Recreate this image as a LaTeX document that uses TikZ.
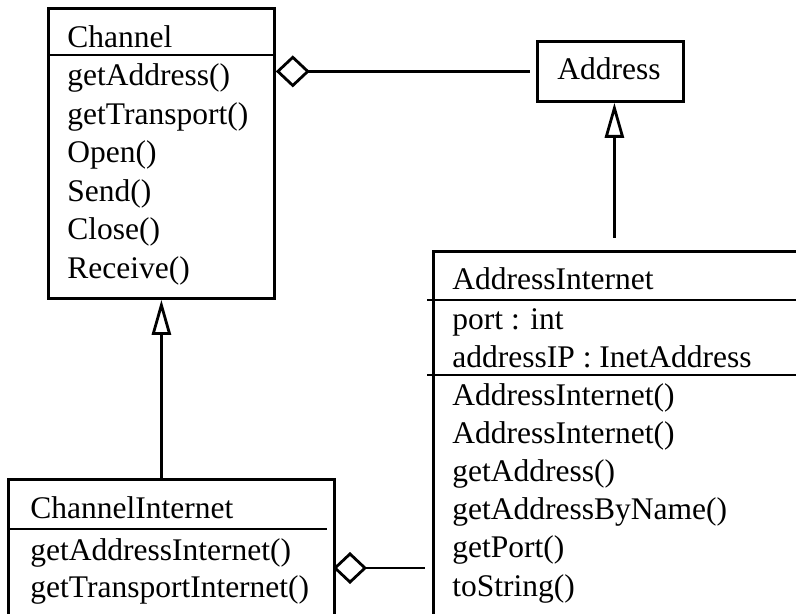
\documentclass[tikz,border=0pt]{standalone}
\usepackage{fontspec}
\setmainfont{Liberation Serif}
\usetikzlibrary{arrows.meta}

\tikzset{
  classbox/.style={draw, line width=1.4pt, rectangle, inner sep=0pt, anchor=north west},
  member/.style={anchor=base west, inner sep=0pt, font=\fontsize{15.75}{19}\selectfont},
  compart/.style={line width=1.4pt},
  inherit/.style={line width=1.4pt, -{Triangle[open, length=17.5pt, width=9.5pt]}},
  aggr/.style={line width=1.4pt, {Diamond[open, length=17pt, width=16pt]}-},
}

\begin{document}
\begin{tikzpicture}[x=0.5pt, y=-0.5pt]
  \useasboundingbox (0,0) rectangle (796,614);
  % class boxes
  \node[classbox, minimum width=113pt, minimum height=145pt] (channel) at (47,7) {};
  \node[classbox, minimum width=73pt, minimum height=30pt] (address) at (536,40) {};
  \node[classbox, minimum width=234pt, minimum height=225pt] (addrinet) at (432,250) {};
  \node[classbox, minimum width=163pt, minimum height=101pt] (chinet) at (7,478) {};
  % compartments
  \draw[compart] (47,55) -- (273,55);
  \draw[compart] (427,300) -- (796,300);
  \draw[compart] (427,375) -- (796,375);
  \draw[compart] (7,529) -- (327,529);
  % class names
  \node[member] (channel-name) at (67,48) {Channel};
  \node[member, anchor=base] (address-name) at (609,80) {Address};
  \node[member] (addrinet-name) at (452,290) {AddressInternet};
  \node[member] (chinet-name) at (30,518) {ChannelInternet};
  % members
  \foreach[count=\i] \m in {getAddress(),getTransport(),Open(),Send(),Close(),Receive()}
    \node[member] (channel-m\i) at (67,{86+38.5*(\i-1)}) {\m};
  \foreach[count=\i] \m in {port : int,addressIP : InetAddress}
    \node[member] (addrinet-a\i) at (452,{329+38.3*(\i-1)}) {\m};
  \foreach[count=\i] \m in {AddressInternet(),AddressInternet(),getAddress(),getAddressByName(),getPort(),toString()}
    \node[member] (addrinet-m\i) at (452,{405+38.2*(\i-1)}) {\m};
  \foreach[count=\i] \m in {getAddressInternet(),getTransportInternet()}
    \node[member] (chinet-m\i) at (30,{560+37.5*(\i-1)}) {\m};
  % relations
  \coordinate (chinet-aggr) at (333,568);
  \draw[aggr, shorten >=3pt] (address.west -| channel.east) -- (address.west);
  \draw[aggr, shorten >=3.5pt] (chinet-aggr) -- (chinet-aggr -| addrinet.west);
  \draw[inherit, shorten <=6pt] ([xshift=2pt]address.south |- addrinet.north) -- ([xshift=2pt]address.south);
  \draw[inherit] (channel.south |- chinet.north) -- (channel.south);
\end{tikzpicture}
\end{document}
